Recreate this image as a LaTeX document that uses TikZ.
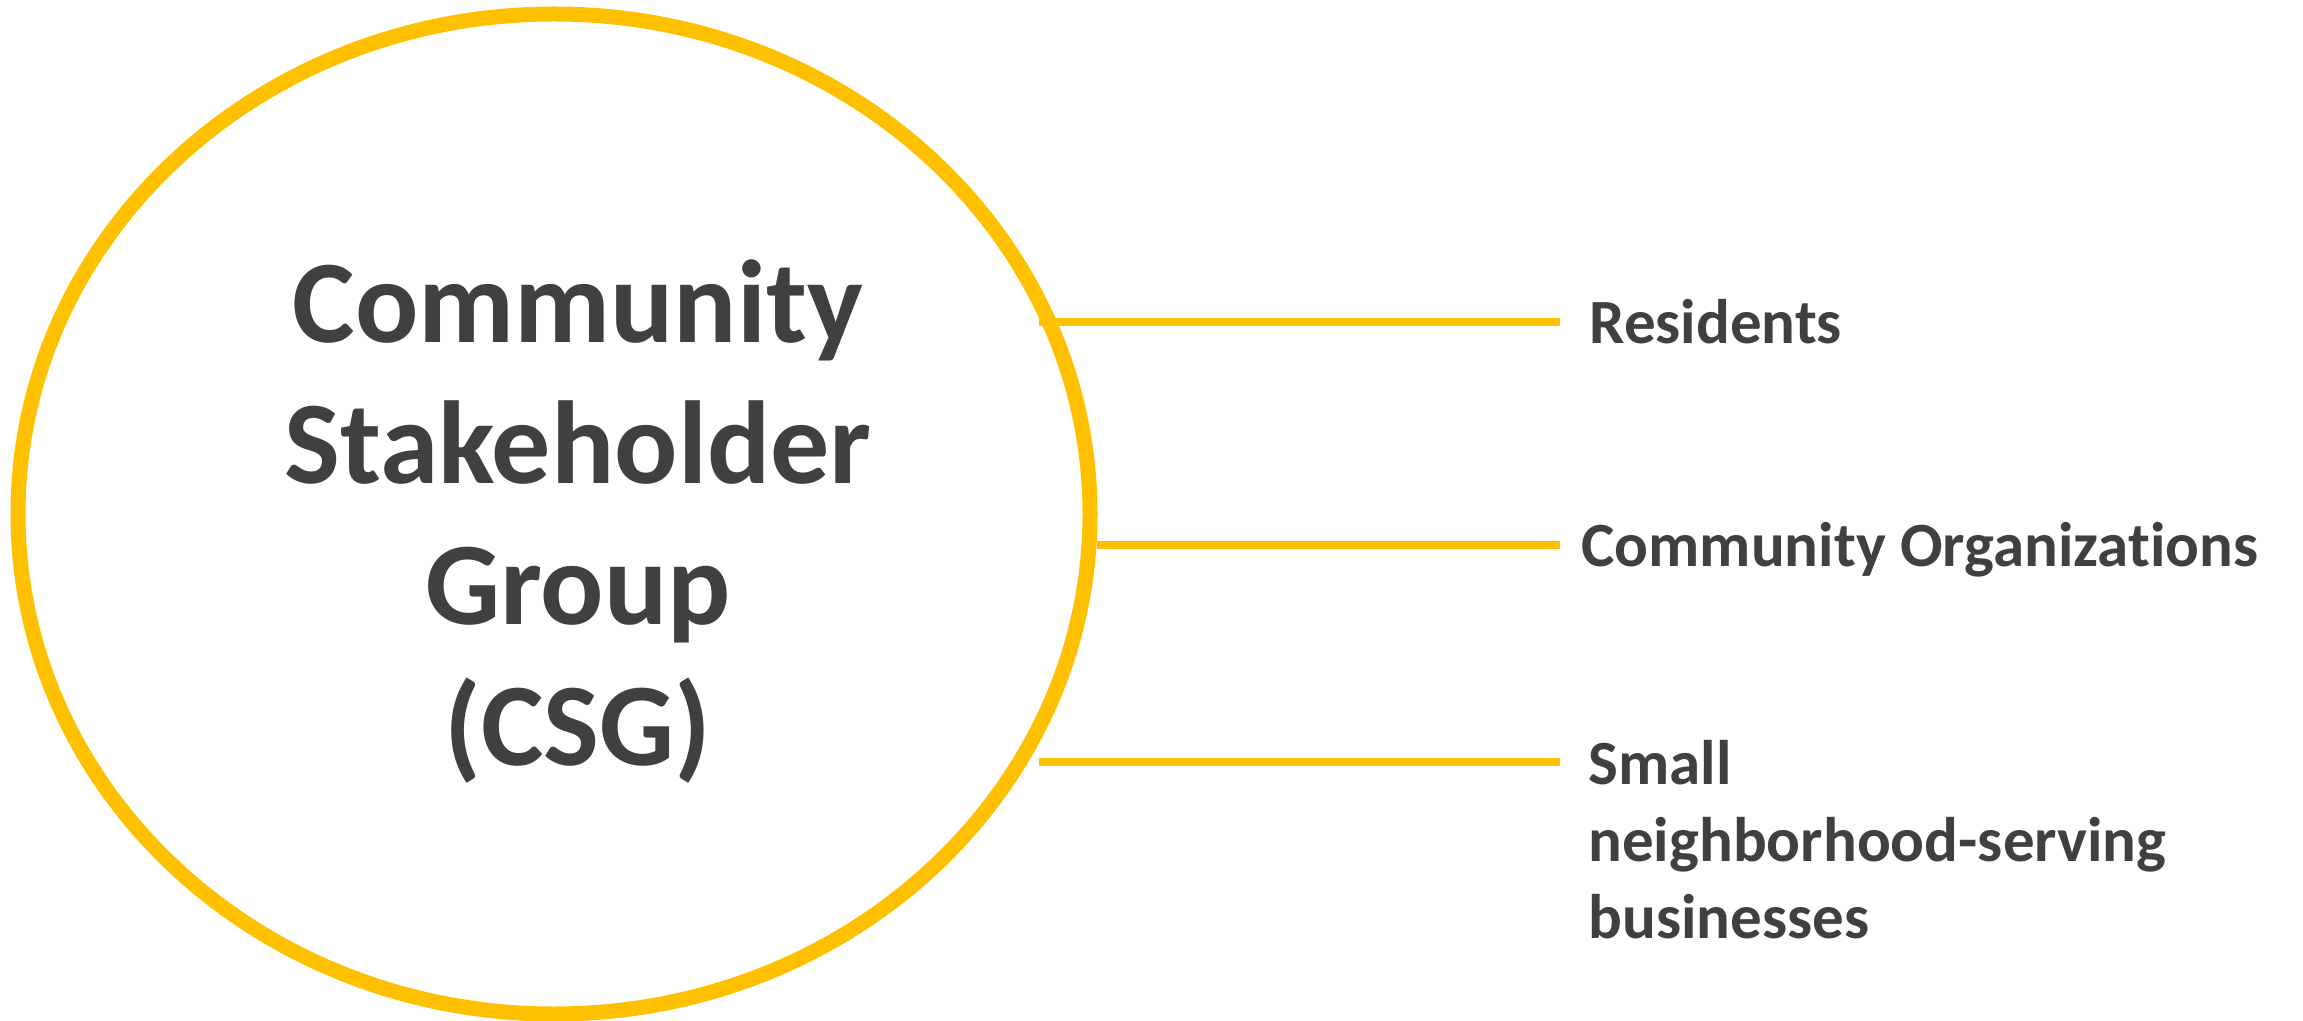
\documentclass[tikz,border=0pt]{standalone}
\usepackage{fontspec}
\setmainfont{Carlito}[Ligatures={NoCommon}]
\usetikzlibrary{shapes.geometric}
\definecolor{csgyellow}{HTML}{FFC000}
\definecolor{csggray}{HTML}{404040}

\begin{document}
\begin{tikzpicture}[x=0.5pt,y=-0.5pt]
        \useasboundingbox (0,0) rectangle (2303,1021);

        \node[ellipse,draw=csgyellow,line width=7.5pt,inner sep=0pt,outer sep=0pt,
              minimum width=536pt,minimum height=500pt] (csg) at (554,514) {};

        % base anchor sits on the last line
        \node[align=center,text=csggray,anchor=base,
              font=\fontsize{59}{70.5}\selectfont\bfseries] (title) at (578,765)
              {Community\\Stakeholder\\Group\\(CSG)};

        \begin{scope}[every node/.style={text=csggray,inner sep=0pt,anchor=base west,
                      font=\fontsize{31.5}{38.5}\selectfont\bfseries}]
          \node (res) at (1589,344) {Residents};
          \node (org) at (1581,567) {Community Organizations};
          \node[align=left] (biz) at (1588,938) {Small\\neighborhood-serving\\businesses};
        \end{scope}

        \coordinate (resL) at (1039,322);
        \coordinate (orgL) at (1097,545);
        \coordinate (bizL) at (1039,762);

        \begin{scope}[every edge/.style={draw=csgyellow,line width=4pt}]
          \path (resL) edge[shorten >=14.5pt] (resL -| res.west);
          \path (orgL) edge[shorten >=10.5pt] (orgL -| org.west);
          \path (bizL) edge[shorten >=14pt]   (bizL -| biz.west);
        \end{scope}

      \end{tikzpicture}
\end{document}
